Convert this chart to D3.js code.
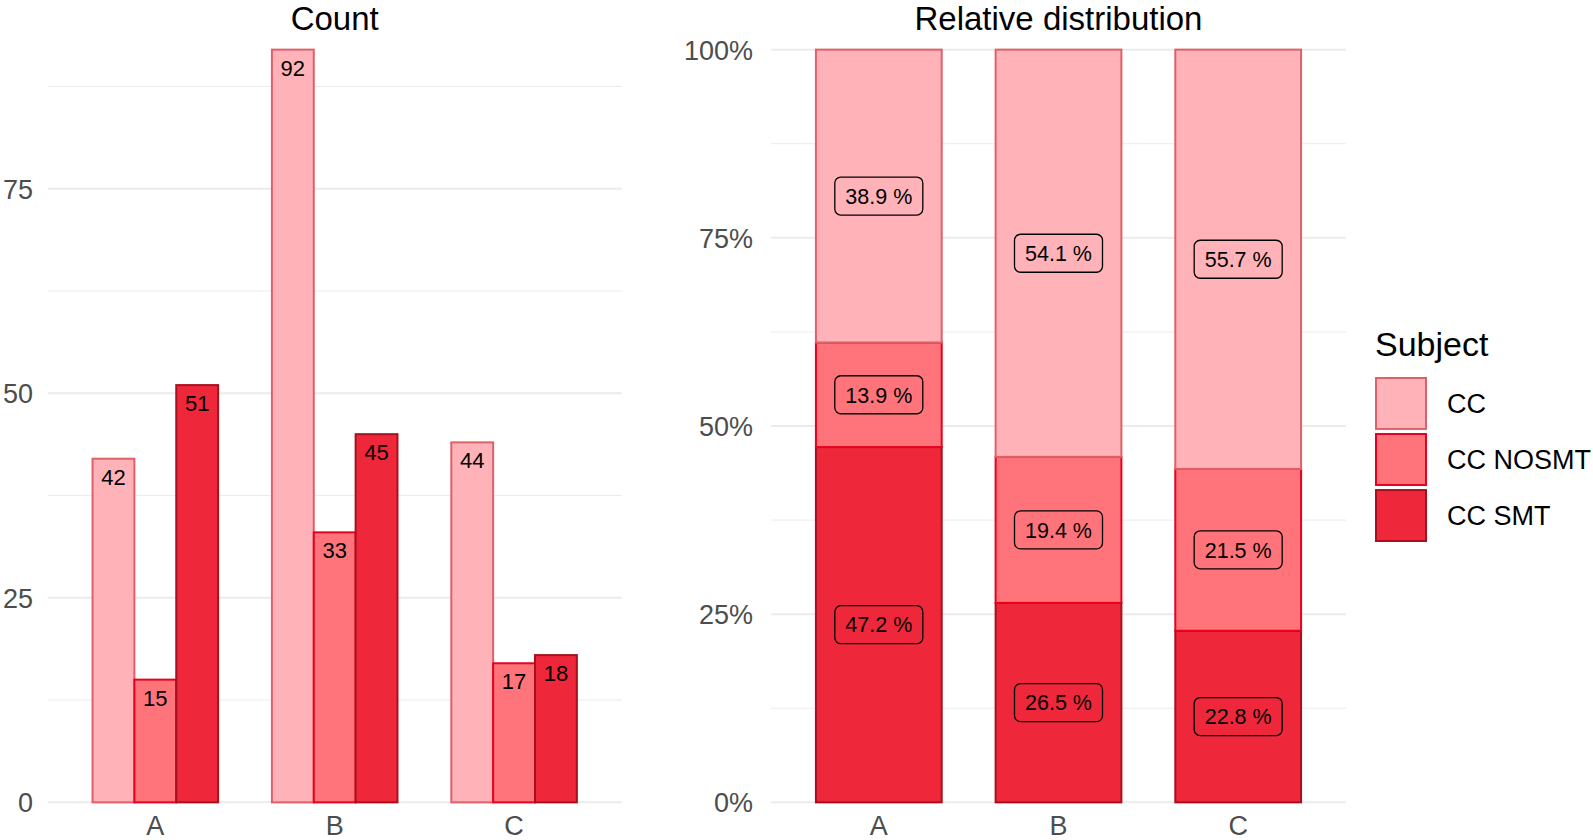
<!DOCTYPE html>
<html>
<head>
<meta charset="utf-8">
<script src="https://cdn.jsdelivr.net/npm/d3@7"></script>
<style>
  body { margin: 0; background: #fff; }
  svg { display: block; }
  text { font-family: "Liberation Sans", Arial, sans-serif; }
</style>
</head>
<body>
<svg id="chart" width="1593" height="840"></svg>
<script>
// ---- data ----
const categories = ["A", "B", "C"];
const subjects = ["CC", "CC NOSMT", "CC SMT"];
const countCC = [42, 92, 44];
const countNOSMT = [15, 33, 17];
const countSMT = [51, 45, 18];
const pctCC = [38.9, 54.1, 55.7];
const pctNOSMT = [13.9, 19.4, 21.5];
const pctSMT = [47.2, 26.5, 22.8];
const countTicks = [0, 25, 50, 75];
const countMinor = [12.5, 37.5, 62.5, 87.5];
const pctTicks = [0, 0.25, 0.5, 0.75, 1];
const pctMinor = [0.125, 0.375, 0.625, 0.875];
const titles = ["Count", "Relative distribution"];
const legendTitle = "Subject";

// ---- styles ----
const fills = { "CC": "#FFB3B8", "CC NOSMT": "#FF747A", "CC SMT": "#EE283A" };
const strokes = { "CC": "#E0606A", "CC NOSMT": "#E8001E", "CC SMT": "#A8101E" };
const gridCol = "#EBEBEB";
const tickCol = "#4D4D4D";

const svg = d3.select("#chart");

const countRows = categories.map((c, i) => ({
  cat: c, "CC": countCC[i], "CC NOSMT": countNOSMT[i], "CC SMT": countSMT[i]
}));
const pctRows = categories.map((c, i) => ({
  cat: c, "CC": pctCC[i] / 100, "CC NOSMT": pctNOSMT[i] / 100, "CC SMT": pctSMT[i] / 100
}));

const panelTop = 12, panelBottom = 840;
const xLabelY = 826;
const titleY = 30, titleSize = 33;

// ================= LEFT PANEL (Count) =================
const L = { x0: 47.7, x1: 621.7 };
const xL = d3.scaleBand().domain(categories).range([L.x0, L.x1]).paddingInner(0.3).paddingOuter(0.25);
const xSub = d3.scaleBand().domain(subjects).range([0, xL.bandwidth()]).padding(0);
const yL = d3.scaleLinear().domain([-4.6, 96.6]).range([panelBottom, panelTop]);

const gL = svg.append("g");
gL.selectAll("line.minor").data(countMinor).join("line")
  .attr("x1", L.x0).attr("x2", L.x1)
  .attr("y1", d => yL(d)).attr("y2", d => yL(d))
  .attr("stroke", gridCol).attr("stroke-width", 1);
gL.selectAll("line.major").data(countTicks).join("line")
  .attr("x1", L.x0).attr("x2", L.x1)
  .attr("y1", d => yL(d)).attr("y2", d => yL(d))
  .attr("stroke", gridCol).attr("stroke-width", 2);

// y axis labels
const axL = d3.axisLeft(yL).tickValues(countTicks).tickSize(0).tickPadding(0).tickFormat(d3.format("d"));
const axLg = svg.append("g").attr("transform", `translate(${33},0)`).call(axL);
axLg.select(".domain").remove();
axLg.selectAll("text").attr("font-size", 27).attr("fill", tickCol)
  .attr("font-family", "Liberation Sans, Arial, sans-serif").attr("dy", "0.35em");

// x axis labels
const axLx = d3.axisBottom(xL).tickSize(0).tickPadding(0);
const axLxg = svg.append("g").attr("transform", `translate(0,${xLabelY})`).call(axLx);
axLxg.select(".domain").remove();
axLxg.selectAll("text").attr("font-size", 27).attr("fill", tickCol)
  .attr("font-family", "Liberation Sans, Arial, sans-serif").attr("dy", "0.35em");

// bars
const grpL = gL.selectAll("g.grp").data(countRows).join("g")
  .attr("transform", d => `translate(${xL(d.cat)},0)`);
grpL.selectAll("rect").data(d => subjects.map(s => ({ s, v: d[s] }))).join("rect")
  .attr("x", d => xSub(d.s))
  .attr("width", xSub.bandwidth())
  .attr("y", d => yL(d.v))
  .attr("height", d => yL(0) - yL(d.v))
  .attr("fill", d => fills[d.s])
  .attr("stroke", d => strokes[d.s])
  .attr("stroke-width", 2);
grpL.selectAll("text").data(d => subjects.map(s => ({ s, v: d[s] }))).join("text")
  .attr("x", d => xSub(d.s) + xSub.bandwidth() / 2)
  .attr("y", d => yL(d.v) + 26)
  .attr("text-anchor", "middle")
  .attr("font-size", 22)
  .attr("fill", "#000")
  .text(d => d.v);

// title
svg.append("text").attr("x", (L.x0 + L.x1) / 2).attr("y", titleY)
  .attr("text-anchor", "middle").attr("font-size", titleSize).attr("fill", "#000").text(titles[0]);

// ================= RIGHT PANEL (Relative distribution) =================
const R = { x0: 771, x1: 1346 };
const xR = d3.scaleBand().domain(categories).range([R.x0, R.x1]).paddingInner(0.3).paddingOuter(0.25);
const yR = d3.scaleLinear().domain([-0.05, 1.05]).range([panelBottom, panelTop]);

const gR = svg.append("g");
gR.selectAll("line.minor").data(pctMinor).join("line")
  .attr("x1", R.x0).attr("x2", R.x1)
  .attr("y1", d => yR(d)).attr("y2", d => yR(d))
  .attr("stroke", gridCol).attr("stroke-width", 1);
gR.selectAll("line.major").data(pctTicks).join("line")
  .attr("x1", R.x0).attr("x2", R.x1)
  .attr("y1", d => yR(d)).attr("y2", d => yR(d))
  .attr("stroke", gridCol).attr("stroke-width", 2);

const axR = d3.axisLeft(yR).tickValues(pctTicks).tickSize(0).tickPadding(0).tickFormat(d3.format(".0%"));
const axRg = svg.append("g").attr("transform", `translate(${753},0)`).call(axR);
axRg.select(".domain").remove();
axRg.selectAll("text").attr("font-size", 27).attr("fill", tickCol)
  .attr("font-family", "Liberation Sans, Arial, sans-serif").attr("dy", "0.35em");

const axRx = d3.axisBottom(xR).tickSize(0).tickPadding(0);
const axRxg = svg.append("g").attr("transform", `translate(0,${xLabelY})`).call(axRx);
axRxg.select(".domain").remove();
axRxg.selectAll("text").attr("font-size", 27).attr("fill", tickCol)
  .attr("font-family", "Liberation Sans, Arial, sans-serif").attr("dy", "0.35em");

const stackOrder = ["CC SMT", "CC NOSMT", "CC"];
const series = d3.stack().keys(stackOrder)(pctRows);

const segs = [];
series.forEach(layer => {
  layer.forEach((seg, i) => {
    segs.push({ s: layer.key, cat: categories[i], y0: seg[0], y1: seg[1], v: seg.data[layer.key] });
  });
});

gR.selectAll("rect.seg").data(segs).join("rect")
  .attr("class", "seg")
  .attr("x", d => xR(d.cat))
  .attr("width", xR.bandwidth())
  .attr("y", d => yR(d.y1))
  .attr("height", d => yR(d.y0) - yR(d.y1))
  .attr("fill", d => fills[d.s])
  .attr("stroke", d => strokes[d.s])
  .attr("stroke-width", 2);

const lab = gR.selectAll("g.lab").data(segs).join("g")
  .attr("class", "lab")
  .attr("transform", d => `translate(${xR(d.cat) + xR.bandwidth() / 2},${yR((d.y0 + d.y1) / 2)})`);
lab.append("rect")
  .attr("x", -44).attr("y", -19).attr("width", 88).attr("height", 38)
  .attr("rx", 6).attr("ry", 6)
  .attr("fill", "none").attr("stroke", "#000").attr("stroke-width", 1.3);
lab.append("text")
  .attr("text-anchor", "middle").attr("dy", "0.36em")
  .attr("font-size", 21.5).attr("fill", "#000")
  .text(d => d3.format(".1f")(d.v * 100) + " %");

svg.append("text").attr("x", (R.x0 + R.x1) / 2).attr("y", titleY)
  .attr("text-anchor", "middle").attr("font-size", titleSize).attr("fill", "#000").text(titles[1]);

// ================= LEGEND =================
const lg = svg.append("g");
lg.append("text").attr("x", 1375).attr("y", 356).attr("font-size", 34).attr("fill", "#000").text(legendTitle);
const keyY = d3.scaleBand().domain(subjects).range([377, 377 + 3 * 55]).paddingInner(0.055).paddingOuter(0);
const items = lg.selectAll("g.item").data(subjects).join("g").attr("class", "item")
  .attr("transform", d => `translate(1375,${keyY(d)})`);
items.append("rect")
  .attr("x", 1).attr("y", 1)
  .attr("width", 50).attr("height", keyY.bandwidth() - 2)
  .attr("fill", d => fills[d]).attr("stroke", d => strokes[d]).attr("stroke-width", 2);
items.append("text")
  .attr("x", 72).attr("y", keyY.bandwidth() / 2).attr("dy", "0.36em")
  .attr("font-size", 27).attr("fill", "#000").text(d => d);
</script>
</body>
</html>
